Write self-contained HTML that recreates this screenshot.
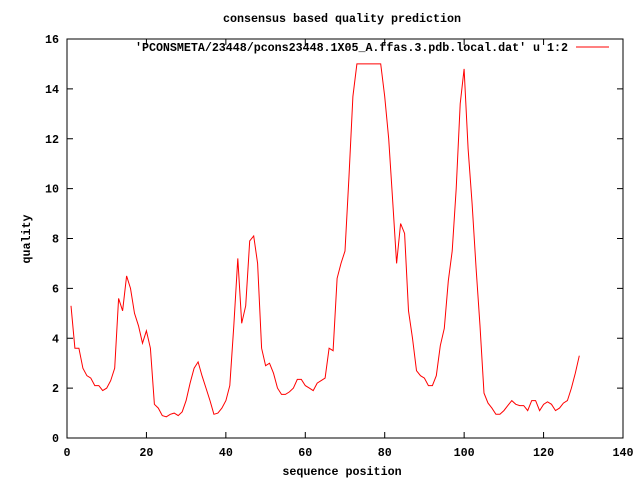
<!DOCTYPE html>
<html><head><meta charset="utf-8"><style>
html,body{margin:0;padding:0;background:#fff;}
svg text{font-family:"Liberation Mono",monospace;font-weight:bold;font-size:11.7px;fill:#000;}
</style></head><body>
<svg id="chart" width="640" height="480" xmlns="http://www.w3.org/2000/svg">
<rect x="0" y="0" width="640" height="480" fill="#fff"/>
<text x="342" y="22" text-anchor="middle" textLength="238">consensus based quality prediction</text>
<text x="342" y="475" text-anchor="middle">sequence position</text>
<text transform="translate(30,239) rotate(-90)" text-anchor="middle">quality</text>
<g id="axes"></g>
<g id="series"></g>
<rect x="67" y="39" width="556" height="399" fill="none" stroke="#000" stroke-width="1"/>
<g>
<text x="568" y="51" text-anchor="end" textLength="433">'PCONSMETA/23448/pcons23448.1X05_A.ffas.3.pdb.local.dat' u 1:2</text>
<line x1="576" y1="47" x2="609" y2="47" stroke="#f00" stroke-width="1"/>
</g>
</svg>
<script>
const xTicks = [0,20,40,60,80,100,120,140];
const yTicks = [0,2,4,6,8,10,12,14,16];
const quality = [5.3,3.6,3.6,2.8,2.5,2.4,2.1,2.1,1.9,2.0,2.3,2.8,5.6,5.1,6.5,6.0,5.0,4.5,3.8,4.3,3.6,1.35,1.2,0.9,0.85,0.95,1.0,0.9,1.05,1.5,2.2,2.8,3.05,2.5,2.0,1.5,0.95,1.0,1.2,1.5,2.1,4.5,7.2,4.6,5.3,7.9,8.1,7.0,3.6,2.9,3.0,2.6,2.0,1.75,1.75,1.85,2.0,2.35,2.35,2.1,2.0,1.9,2.2,2.3,2.4,3.6,3.5,6.4,7.0,7.5,10.5,13.7,15,15,15,15,15,15,15,13.7,12,9.5,7.0,8.6,8.2,5.1,4.0,2.7,2.5,2.4,2.1,2.1,2.5,3.7,4.4,6.3,7.5,10.0,13.4,14.8,11.6,9.4,6.8,4.5,1.8,1.4,1.2,0.95,0.95,1.1,1.3,1.5,1.35,1.3,1.3,1.1,1.5,1.5,1.1,1.35,1.45,1.35,1.1,1.2,1.4,1.5,2.0,2.6,3.3];
const NS="http://www.w3.org/2000/svg";
const L=67,R=623,T=39,B=438;
function sx(v){return L+(v-0)/(140-0)*(R-L);}
function sy(v){return B-(v-0)/(16-0)*(B-T);}
const axes=document.getElementById('axes');
xTicks.forEach(t=>{
  const x=sx(t);
  const p=document.createElementNS(NS,'path');
  p.setAttribute('d',`M${x},${B}v-6M${x},${T}v6`);
  p.setAttribute('stroke','#000');
  
  
  axes.appendChild(p);
  const tx=document.createElementNS(NS,'text');
  tx.setAttribute('x',x);tx.setAttribute('y',B+18);tx.setAttribute('text-anchor','middle');
  tx.textContent=t;
  
  
  axes.appendChild(tx);
});
yTicks.forEach(t=>{
  const y=sy(t);
  const p=document.createElementNS(NS,'path');
  p.setAttribute('d',`M${L},${y}h6M${R},${y}h-6`);
  p.setAttribute('stroke','#000');
  
  
  axes.appendChild(p);
  const tx=document.createElementNS(NS,'text');
  tx.setAttribute('x',L-8);tx.setAttribute('y',y+4);tx.setAttribute('text-anchor','end');
  tx.textContent=t;
  
  
  axes.appendChild(tx);
});
const pts=quality.map((v,i)=>sx(i+1).toFixed(1)+','+sy(v).toFixed(1)).join(' ');
const line=document.createElementNS(NS,'polyline');
line.setAttribute('points',pts);
line.setAttribute('fill','none');
line.setAttribute('stroke','#f00');
line.setAttribute('stroke-width','1');


document.getElementById('series').appendChild(line);
</script>
</body></html>
